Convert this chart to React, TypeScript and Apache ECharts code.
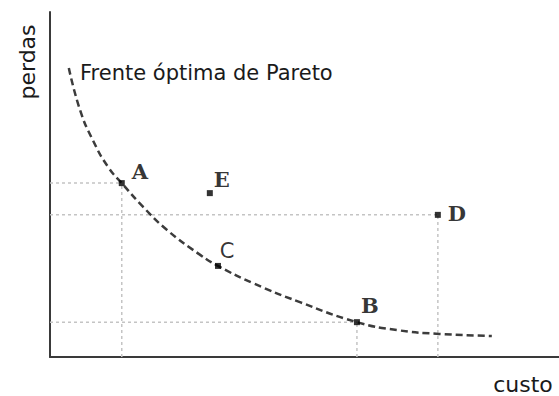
import React, { useEffect, useRef } from "react";
import * as echarts from "echarts";

// Pareto front sampled along the curve (custo, perdas)
const frontCusto = [3.7, 5.9, 8.4, 11.4, 14.1, 18.3, 23.0, 29.5, 33.0, 39.9, 49.1, 60.3, 68.2, 76.4, 86.8];
const frontPerdas = [83.8, 71.6, 62.9, 55.1, 50.4, 43.5, 36.8, 29.6, 26.4, 21.4, 15.9, 10.1, 7.8, 6.7, 6.1];

// Named solutions
const pointNames = ["A", "B", "C", "D", "E"];
const pointCusto = [14.1, 60.3, 33.0, 76.2, 31.4];
const pointPerdas = [50.4, 10.1, 26.4, 41.2, 47.5];

// Solutions projected onto both axes with guide lines
const guidedPoints = ["A", "B", "D"];

const frontLabel = "Frente óptima de Pareto";
const xName = "custo";
const yName = "perdas";

// label offsets (px) for each letter
const labelOffsets: Record<string, [number, number]> = {
  A: [18, -12],
  B: [13, -17],
  C: [9, -15],
  D: [19, -1],
  E: [12, -14],
};

// letters set in a serif face, except C which is set in sans
const sansLetters = ["C"];

export default function App() {
  const ref = useRef<HTMLDivElement>(null);

  useEffect(() => {
    if (!ref.current) return;
    const chart = echarts.init(ref.current, null, { renderer: "svg" });

    const front = frontCusto.map((x, i) => [x, frontPerdas[i]]);
    const points = pointNames.map((name, i) => {
      const sans = sansLetters.includes(name);
      return {
        name,
        value: [pointCusto[i], pointPerdas[i]],
        label: {
          offset: labelOffsets[name],
          fontFamily: sans ? "DejaVu Sans" : "DejaVu Serif",
          fontWeight: sans ? "normal" : "bold",
          fontSize: 21,
        },
      };
    });

    const guideStyle = { color: "#c4c4c4", width: 1.5, type: [3, 3] as number[] };
    const guideSeries: any[] = [];
    guidedPoints.forEach((name) => {
      const i = pointNames.indexOf(name);
      const x = pointCusto[i];
      const y = pointPerdas[i];
      guideSeries.push({
        type: "line",
        data: [[0, y], [x, y]],
        symbol: "none",
        lineStyle: guideStyle,
        silent: true,
        z: 1,
      });
      guideSeries.push({
        type: "line",
        data: [[x, 0], [x, y]],
        symbol: "none",
        lineStyle: guideStyle,
        silent: true,
        z: 1,
      });
    });

    chart.setOption({
      animation: false,
      backgroundColor: "#ffffff",
      grid: { left: 50, right: 0, top: 12, bottom: 39 },
      xAxis: {
        type: "value",
        min: 0,
        max: 100,
        axisLine: { show: true, onZero: false, lineStyle: { color: "#3a3a3a", width: 2 } },
        axisTick: { show: false },
        axisLabel: { show: false },
        splitLine: { show: false },
      },
      yAxis: {
        type: "value",
        min: 0,
        max: 100,
        axisLine: { show: true, onZero: false, lineStyle: { color: "#3a3a3a", width: 2 } },
        axisTick: { show: false },
        axisLabel: { show: false },
        splitLine: { show: false },
      },
      series: [
        ...guideSeries,
        {
          type: "line",
          data: front,
          smooth: 0.5,
          symbol: "none",
          lineStyle: { color: "#3c3c3c", width: 2.5, type: [7, 4] },
          z: 2,
        },
        {
          type: "scatter",
          data: points,
          symbol: "rect",
          symbolSize: 6,
          itemStyle: { color: "#000000" },
          label: {
            show: true,
            position: "inside",
            formatter: "{b}",
            color: "#000000",
          },
          z: 3,
        },
      ],
      graphic: [
        {
          type: "text",
          x: 80,
          y: 73,
          style: {
            text: frontLabel,
            fontFamily: "DejaVu Sans",
            fontSize: 21,
            fill: "#1a1a1a",
            verticalAlign: "middle",
            align: "left",
          },
        },
        {
          type: "text",
          x: 27,
          y: 62,
          rotation: Math.PI / 2,
          style: {
            text: yName,
            fontFamily: "DejaVu Sans",
            fontSize: 22,
            fill: "#1a1a1a",
            verticalAlign: "middle",
            align: "center",
          },
        },
        {
          type: "text",
          x: 523,
          y: 384,
          style: {
            text: xName,
            fontFamily: "DejaVu Sans",
            fontSize: 22,
            fill: "#1a1a1a",
            verticalAlign: "middle",
            align: "center",
          },
        },
      ],
    });

    return () => chart.dispose();
  }, []);

  return (
    <div
      ref={ref}
      style={{ position: "fixed", left: 0, top: 0, width: 559, height: 396, background: "#fff" }}
    />
  );
}
